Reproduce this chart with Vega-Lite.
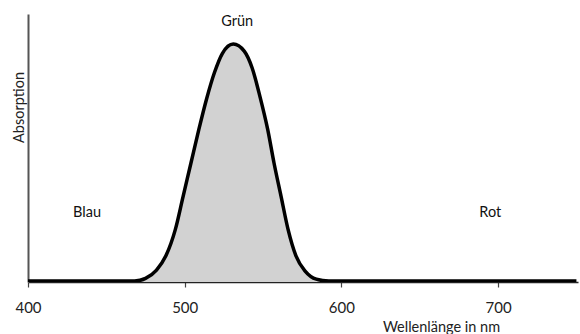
{
  "$schema": "https://vega.github.io/schema/vega-lite/v6.json",
  "width": 550,
  "height": 268,
  "autosize": {"type": "none"},
  "padding": {"left": 28, "top": 14, "right": 2, "bottom": 52},
  "background": "white",
  "config": {"view": {"stroke": null}, "font": "Lato"},
  "datasets": {
    "curve": [
      {"wl": 400, "abs": 0.004},
      {"wl": 440, "abs": 0.004},
      {"wl": 468, "abs": 0.004},
      {"wl": 475, "abs": 0.015},
      {"wl": 482, "abs": 0.05},
      {"wl": 488, "abs": 0.11},
      {"wl": 494, "abs": 0.22},
      {"wl": 499, "abs": 0.36},
      {"wl": 504, "abs": 0.5},
      {"wl": 509, "abs": 0.64},
      {"wl": 514, "abs": 0.77},
      {"wl": 519, "abs": 0.88},
      {"wl": 524, "abs": 0.96},
      {"wl": 531, "abs": 1.0},
      {"wl": 538, "abs": 0.97},
      {"wl": 543, "abs": 0.9},
      {"wl": 548, "abs": 0.78},
      {"wl": 553, "abs": 0.64},
      {"wl": 557, "abs": 0.5},
      {"wl": 561.5, "abs": 0.36},
      {"wl": 566, "abs": 0.22},
      {"wl": 571, "abs": 0.11},
      {"wl": 577, "abs": 0.045},
      {"wl": 584, "abs": 0.012},
      {"wl": 592, "abs": 0.004},
      {"wl": 650, "abs": 0.004},
      {"wl": 750, "abs": 0.004}
    ],
    "labels": [
      {"wl": 533.5, "abs": 1.092, "text": "Grün"},
      {"wl": 437.7, "abs": 0.29, "text": "Blau"},
      {"wl": 695, "abs": 0.29, "text": "Rot"}
    ]
  },
  "layer": [
    {
      "data": {"name": "curve"},
      "mark": {"type": "area", "interpolate": "monotone", "color": "#d2d2d2", "clip": true},
      "encoding": {
        "x": {
          "field": "wl", "type": "quantitative",
          "scale": {"domain": [400, 751], "nice": false, "zero": false},
          "axis": {
            "values": [400, 500, 600, 700],
            "grid": false,
            "domainColor": "#222",
            "domainWidth": 1.5,
            "tickColor": "#444",
            "tickSize": 5,
            "tickWidth": 1.2,
            "labelFontSize": 15,
            "labelColor": "#222",
            "labelPadding": 13,
            "labelFlush": false,
            "labelBound": false,
            "title": "Wellenlänge in nm",
            "titleFontSize": 14.5,
            "titleFontWeight": "normal",
            "titleColor": "#222",
            "titleX": 413,
            "titleY": 45,
            "titleBaseline": "middle",
            "titleAlign": "center"
          }
        },
        "y": {
          "field": "abs", "type": "quantitative",
          "scale": {"domain": [0, 1.126], "nice": false},
          "axis": {
            "grid": false,
            "ticks": false,
            "labels": false,
            "domainColor": "#555",
            "domainWidth": 2,
            "title": "Absorption",
            "titleFontSize": 14.5,
            "titleFontWeight": "normal",
            "titleColor": "#222",
            "titleAngle": -90,
            "titleX": -9,
            "titleY": 93,
            "titleBaseline": "middle",
            "titleAlign": "center"
          }
        }
      }
    },
    {
      "data": {"name": "curve"},
      "mark": {"type": "line", "interpolate": "monotone", "color": "#000", "strokeWidth": 3.5, "clip": true},
      "encoding": {
        "x": {"field": "wl", "type": "quantitative"},
        "y": {"field": "abs", "type": "quantitative"}
      }
    },
    {
      "data": {"name": "labels"},
      "mark": {"type": "text", "fontSize": 14.5, "color": "#111", "align": "center", "baseline": "middle"},
      "encoding": {
        "x": {"field": "wl", "type": "quantitative"},
        "y": {"field": "abs", "type": "quantitative"},
        "text": {"field": "text"}
      }
    }
  ]
}
